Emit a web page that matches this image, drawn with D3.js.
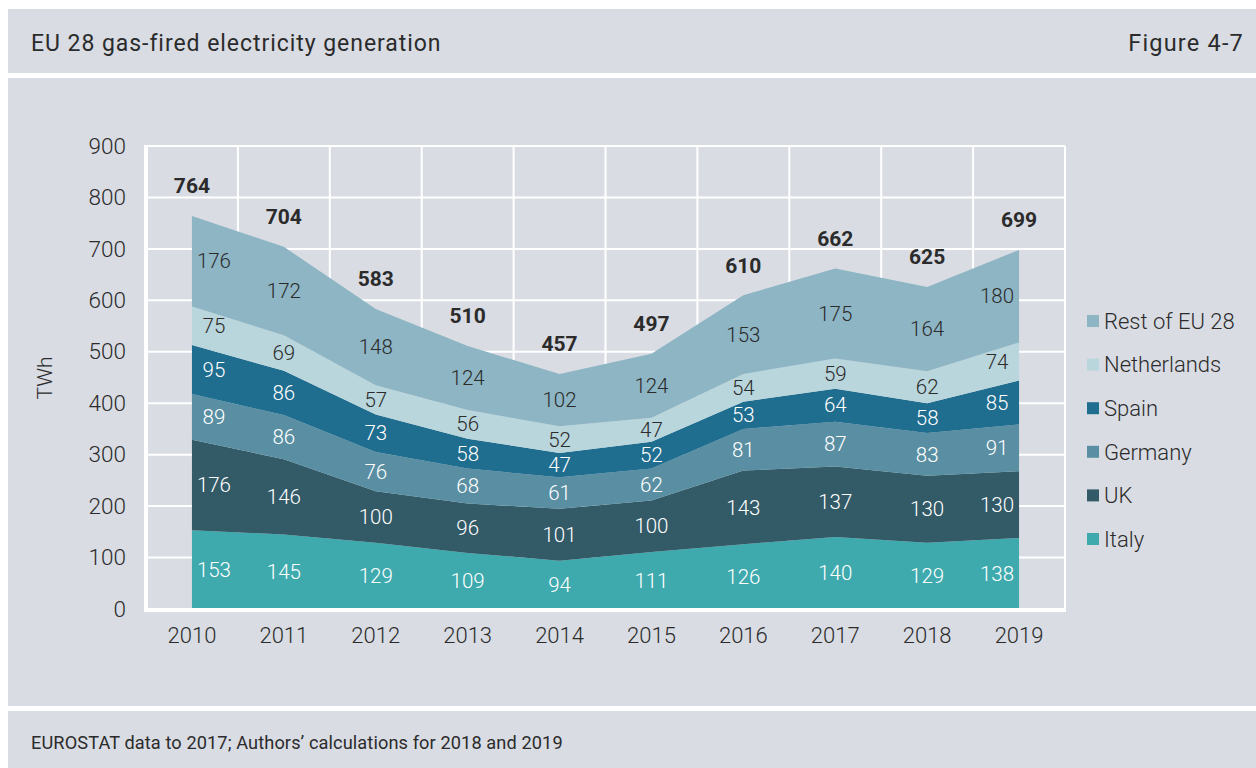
<!DOCTYPE html>
<html><head><meta charset="utf-8">
<script src="https://cdn.jsdelivr.net/npm/d3@7"></script>
<style>
html,body{margin:0;padding:0;background:#fff;}
svg{display:block;font-family:Roboto,"Open Sans",sans-serif;}
</style></head>
<body><svg id="c" width="1256" height="768"></svg>
<script>
const years = ["2010","2011","2012","2013","2014","2015","2016","2017","2018","2019"];
const italy = [153,145,129,109,94,111,126,140,129,138];
const uk = [176,146,100,96,101,100,143,137,130,130];
const germany = [89,86,76,68,61,62,81,87,83,91];
const spain = [95,86,73,58,47,52,53,64,58,85];
const netherlands = [75,69,57,56,52,47,54,59,62,74];
const restEU = [176,172,148,124,102,124,153,175,164,180];
const totals = [764,704,583,510,457,497,610,662,625,699];
const yTicks = [0,100,200,300,400,500,600,700,800,900];

const series = [
  {name:"Italy", values:italy, color:"#3eaaae", text:"#ffffff"},
  {name:"UK", values:uk, color:"#325a67", text:"#ffffff"},
  {name:"Germany", values:germany, color:"#5a8fa3", text:"#ffffff"},
  {name:"Spain", values:spain, color:"#1f6d8f", text:"#ffffff"},
  {name:"Netherlands", values:netherlands, color:"#b9d6dc", text:"#2b2b2b"},
  {name:"Rest of EU 28", values:restEU, color:"#8db5c4", text:"#2b2b2b"}
];

const svg = d3.select("#c");
const bg = "#d9dce3";
const dark = "#2b2b2b";

// panels
svg.append("rect").attr("x",8).attr("y",9).attr("width",1248).attr("height",64).attr("fill",bg);
svg.append("rect").attr("x",8).attr("y",78).attr("width",1248).attr("height",628).attr("fill",bg);
svg.append("rect").attr("x",8).attr("y",711).attr("width",1248).attr("height",57).attr("fill",bg);

svg.append("text").attr("x",31).attr("y",51).attr("font-size",23).attr("letter-spacing",0.95).attr("fill",dark).text("EU 28 gas-fired electricity generation");
svg.append("text").attr("x",1244).attr("y",51).attr("font-size",23.5).attr("letter-spacing",1.2).attr("fill",dark).attr("text-anchor","end").text("Figure 4-7");
svg.append("text").attr("x",31).attr("y",749).attr("font-size",18.2).attr("letter-spacing",0.1).attr("fill",dark).text("EUROSTAT data to 2017; Authors\u2019 calculations for 2018 and 2019");

const x = d3.scaleBand().domain(years).range([146,1065]).padding(0);
const xc = d => x(d) + x.bandwidth()/2;
const y = d3.scaleLinear().domain([0,900]).range([609,146]);

const g = svg.append("g");
// grid
g.selectAll(".hg").data(yTicks.slice(1)).join("line")
  .attr("x1",146).attr("x2",1065).attr("y1",d=>y(d)).attr("y2",d=>y(d))
  .attr("stroke","#fff").attr("stroke-width",2);
g.selectAll(".vg").data(years.slice(1).concat(["end"])).join("line")
  .attr("x1",(d,i)=> i<9 ? x(d) : x(years[9])+x.bandwidth())
  .attr("x2",(d,i)=> i<9 ? x(d) : x(years[9])+x.bandwidth())
  .attr("y1",y(900)).attr("y2",y(0))
  .attr("stroke","#fff").attr("stroke-width",2);

// stack
const rows = years.map((yr,i)=>{const o={year:yr}; series.forEach(s=>o[s.name]=s.values[i]); return o;});
const stack = d3.stack().keys(series.map(s=>s.name));
const stacked = stack(rows);
const area = d3.area().x(d=>xc(d.data.year)).y0(d=>y(d[0])).y1(d=>y(d[1]));
g.selectAll(".ar").data(stacked).join("path")
  .attr("d",area).attr("fill",(d,i)=>series[i].color);

// axes lines
g.append("line").attr("x1",146).attr("x2",146).attr("y1",y(900)-1).attr("y2",y(0)+2).attr("stroke","#fff").attr("stroke-width",4);
g.append("line").attr("x1",144).attr("x2",1066).attr("y1",y(0)+1).attr("y2",y(0)+1).attr("stroke","#fff").attr("stroke-width",4);

// labels
stacked.forEach((layer,si)=>{
  layer.forEach((d,i)=>{
    let lx = xc(d.data.year);
    if(i===0) lx += 22; else if(i===9) lx -= 22;
    g.append("text").attr("x",lx).attr("y",y((d[0]+d[1])/2)).attr("dy","0.35em")
      .attr("text-anchor","middle").attr("font-size",20.5).attr("font-weight",300).attr("fill",series[si].text)
      .text(series[si].values[i]);
  });
});
totals.forEach((t,i)=>{
  const top = stacked[stacked.length-1][i][1];
  g.append("text").attr("x",xc(years[i])).attr("y",y(top)-30).attr("dy","0.35em")
    .attr("text-anchor","middle").attr("font-size",21).attr("font-weight","bold").attr("fill",dark).text(t);
});

// y axis
const ya = svg.append("g").attr("transform","translate(126,0)")
  .call(d3.axisLeft(y).tickValues(yTicks).tickSize(0).tickPadding(0));
ya.select(".domain").remove();
ya.selectAll("text").attr("font-size",22.5).attr("font-weight",300).attr("fill",dark).attr("font-family","Roboto,sans-serif");
// x axis
const xa = svg.append("g").attr("transform","translate(0,627)")
  .call(d3.axisBottom(x).tickSize(0).tickPadding(0));
xa.select(".domain").remove();
xa.selectAll("text").attr("font-size",22).attr("font-weight",300).attr("fill",dark).attr("font-family","Roboto,sans-serif");

svg.append("text").attr("transform","translate(52,378) rotate(-90)").attr("text-anchor","middle")
  .attr("font-size",21).attr("font-weight",300).attr("fill",dark).text("TWh");

// legend
const legendOrder = series.slice().reverse();
const lg = svg.append("g");
legendOrder.forEach((s,i)=>{
  const ly = 321 + i*43.6;
  lg.append("rect").attr("x",1087).attr("y",ly-6).attr("width",12).attr("height",12).attr("fill",s.color);
  lg.append("text").attr("x",1104).attr("y",ly).attr("dy","0.35em").attr("font-size",22).attr("font-weight",300).attr("fill",dark).text(s.name);
});
</script></body></html>
